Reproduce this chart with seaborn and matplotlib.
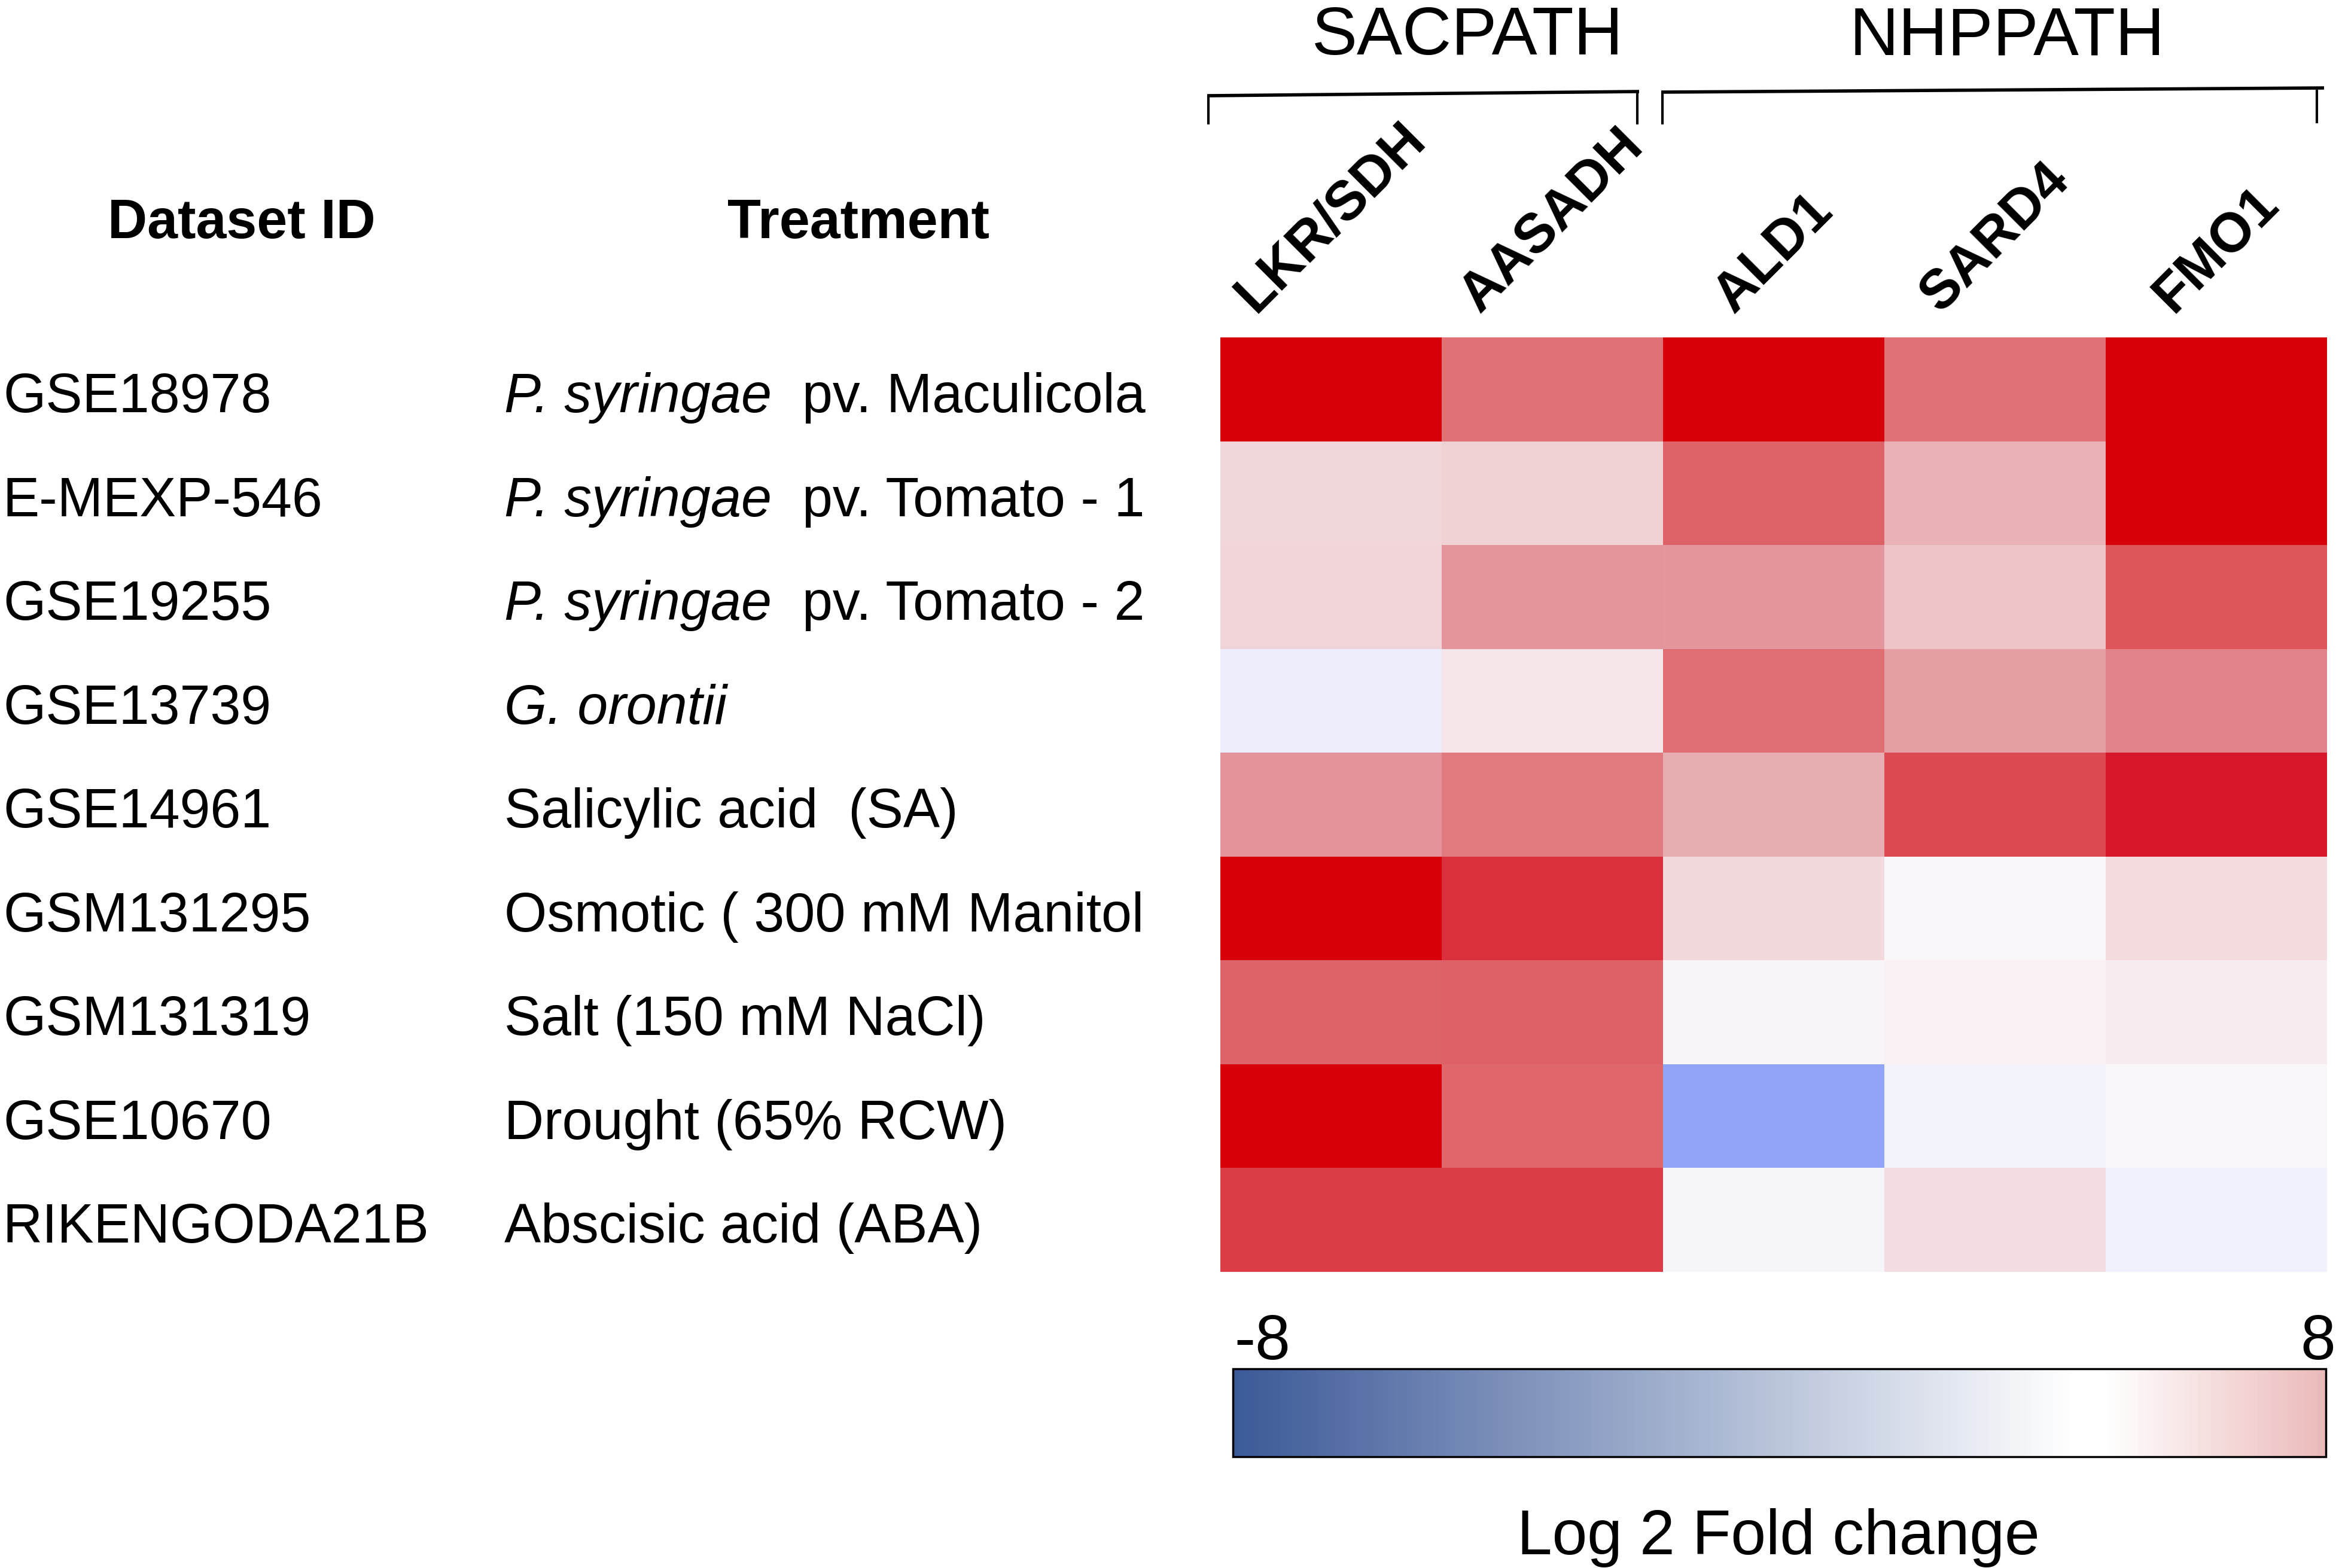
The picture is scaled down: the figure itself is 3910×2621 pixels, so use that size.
import numpy as np
import pandas as pd
import matplotlib
matplotlib.use("Agg")
import matplotlib.pyplot as plt
import seaborn as sns
from matplotlib.colors import LinearSegmentedColormap, Normalize
from matplotlib.cm import ScalarMappable
from matplotlib.transforms import blended_transform_factory

# ---------------- data ----------------
dataset_ids = ["GSE18978", "E-MEXP-546", "GSE19255", "GSE13739", "GSE14961",
               "GSM131295", "GSM131319", "GSE10670", "RIKENGODA21B"]
# treatment label = italic part + regular part
treatment_italic = ["P. syringae", "P. syringae", "P. syringae", "G. orontii",
                    "", "", "", "", ""]
treatment_regular = ["  pv. Maculicola", "  pv. Tomato - 1", "  pv. Tomato - 2", "",
                     "Salicylic acid  (SA)", "Osmotic ( 300 mM Manitol",
                     "Salt (150 mM NaCl)", "Drought (65% RCW)", "Abscisic acid (ABA)"]
genes = ["LKR/SDH", "AASADH", "ALD1", "SARD4", "FMO1"]
pathways = ["SACPATH", "NHPPATH"]

# log2 fold change values
lkr_sdh = [7.5, 1.0, 1.1, -0.8, 3.0, 7.5, 4.4, 7.5, 5.25]
aasadh  = [4.0, 1.15, 2.95, 0.5, 3.75, 5.5, 4.45, 4.37, 5.25]
ald1    = [7.5, 4.4, 2.9, 4.15, 2.1, 0.95, 0.07, -3.0, -0.2]
sard4   = [4.0, 1.95, 1.45, 2.65, 5.0, 0.05, 0.2, -0.45, 0.85]
fmo1    = [7.5, 7.5, 4.8, 3.5, 6.0, 0.9, 0.32, 0.02, -0.55]

vmin, vmax = -8, 8
cbar_ticks = [-8, 8]
cbar_label = "Log 2 Fold change"

df = pd.DataFrame({"LKR/SDH": lkr_sdh, "AASADH": aasadh, "ALD1": ald1,
                   "SARD4": sard4, "FMO1": fmo1}, index=dataset_ids)[genes]

# ---------------- style ----------------
sns.set_style("white")
plt.rcParams["font.family"] = ["Liberation Sans", "DejaVu Sans"]
plt.rcParams["text.color"] = "black"
plt.rcParams["axes.labelcolor"] = "black"
plt.rcParams["xtick.color"] = "black"
plt.rcParams["ytick.color"] = "black"

anchor_vals = [-8, -3, -1, 0, 1, 2, 3, 4, 5, 6, 7, 8]
anchor_cols = ["#2A4BF2", "#90A4F8", "#E8ECFB", "#FAF7FA", "#F2D8DB", "#E8B1B5",
               "#E3949A", "#E07479", "#DC4C53", "#D8192A", "#D70008", "#D70008"]
cell_cmap = LinearSegmentedColormap.from_list(
    "cells", [((v - vmin) / (vmax - vmin), c) for v, c in zip(anchor_vals, anchor_cols)])

bar_cmap = LinearSegmentedColormap.from_list(
    "bar", [(0.0, "#3C5A98"), (0.77, "#FFFFFF"), (0.80, "#FFFFFF"), (1.0, "#EBBABA")])

W, H = 3910, 2621
fig = plt.figure(figsize=(W / 100, H / 100), dpi=100)

ax = fig.add_axes([2040 / W, 1 - 2126 / H, 1850 / W, 1562 / H])
sns.heatmap(df, ax=ax, cmap=cell_cmap, vmin=vmin, vmax=vmax, cbar=False,
            xticklabels=genes, yticklabels=False, linewidths=0)
ax.xaxis.tick_top()
ax.tick_params(axis="x", length=0, pad=19)
for lab in ax.get_xticklabels():
    lab.set_rotation(45)
    lab.set_ha("center")
    lab.set_va("bottom")
    lab.set_fontsize(66)
    lab.set_fontweight("bold")
    lab.set_color("black")
ax.set_xlabel("")
ax.set_ylabel("")

# row labels
renderer = fig.canvas.get_renderer()
tr = blended_transform_factory(fig.transFigure, ax.transData)
for i, ds in enumerate(dataset_ids):
    y = i + 0.5 + 0.22
    ax.text(5 / W, y, ds, transform=tr, ha="left", va="baseline", fontsize=66)
    x = 843 / W
    if treatment_italic[i]:
        t = ax.text(x, y, treatment_italic[i], transform=tr, ha="left",
                    va="baseline", fontsize=66, style="italic")
        bb = t.get_window_extent(renderer)
        x = bb.x1 / fig.bbox.width
    if treatment_regular[i]:
        ax.text(x, y, treatment_regular[i], transform=tr, ha="left",
                va="baseline", fontsize=66)

# headers
fig.text(404 / W, 1 - 398 / H, "Dataset ID", ha="center", va="baseline",
         fontsize=66, fontweight="bold")
fig.text(1435 / W, 1 - 398 / H, "Treatment", ha="center", va="baseline",
         fontsize=66, fontweight="bold")

# pathway brackets
fig.text(2453 / W, 1 - 91 / H, pathways[0], ha="center", va="baseline", fontsize=82)
fig.text(3355 / W, 1 - 91 / H, pathways[1], ha="center", va="baseline", fontsize=82)

def fl(xs, ys, lw):
    fig.add_artist(plt.Line2D([x / W for x in xs], [1 - y / H for y in ys],
                              transform=fig.transFigure, color="black", lw=lw,
                              solid_capstyle="butt"))

fl([2018, 2740], [160, 153], 4)
fl([2020, 2020], [160, 208], 3)
fl([2737, 2737], [153, 208], 3)
fl([2777, 3885], [154, 147], 4)
fl([2779, 2779], [154, 208], 3)
fl([3873, 3873], [150, 206], 3)

# colorbar
cax = fig.add_axes([2061 / W, 1 - 2435 / H, 1827 / W, 147 / H])
cb = fig.colorbar(ScalarMappable(norm=Normalize(vmin, vmax), cmap=bar_cmap),
                  cax=cax, orientation="horizontal")
cb.set_ticks([])
cb.outline.set_linewidth(2.5)
cb.outline.set_edgecolor("black")
fig.text(2063 / W, 1 - 2272 / H, str(cbar_ticks[0]), ha="left", va="baseline", fontsize=76)
fig.text(3904 / W, 1 - 2272 / H, str(cbar_ticks[1]), ha="right", va="baseline", fontsize=76)
fig.text(2973 / W, 1 - 2598 / H, cbar_label, ha="center", va="baseline", fontsize=76)

fig.savefig("out.png", dpi=100, facecolor="white")
